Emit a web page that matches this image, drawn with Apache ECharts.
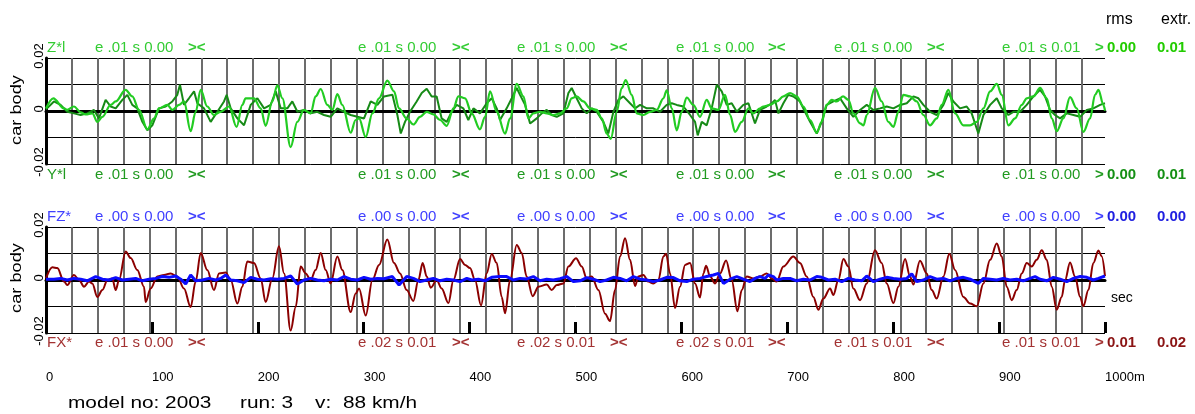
<!DOCTYPE html>
<html><head><meta charset="utf-8">
<script src="https://cdn.jsdelivr.net/npm/echarts@6/dist/echarts.min.js"></script>
<style>html,body{margin:0;padding:0;background:#fff}#c{width:1195px;height:414px}</style>
</head><body><div id="c"></div>
<script>
const FONT = "'Liberation Sans', Arial, Helvetica, sans-serif";
const SEC_M = 88 / 3.6;            // 1 second of travel at 88 km/h (grid step)

// ---- data: [distance m, value] ----
const zSeries = [[0,0.0010],[6.9,0.0048],[17,0.0010],[20.1,0.0004],[26.4,0.0017],[32.7,-0.0005],[37.5,-0.0013],[43.8,-0.0009],[48.5,-0.0041],[53.2,-0.0022],[61.1,0.0023],[65.8,0.0036],[75.2,0.0080],[81.5,0.0055],[87.8,0.0004],[95.7,-0.0069],[102,-0.0028],[106.7,0.0010],[114.6,0.0023],[119.3,0.0004],[125.6,0.0023],[130.3,0.0036],[136.6,-0.0076],[141.3,-0.0003],[146.1,0.0080],[152.3,0.0017],[158.6,-0.0015],[164.9,-0.0003],[172.8,0.0017],[180,-0.0060],[185.4,0.0023],[188.5,0.0048],[196.4,0.0048],[202.7,0.0010],[207.4,-0.0056],[213.7,0.0036],[218.4,0.0097],[223.2,0.0048],[231,-0.0136],[237.3,-0.0041],[243.6,0.0004],[249.9,-0.0009],[254.6,0.0055],[259.4,0.0083],[265.7,0.0023],[270.4,0.0004],[275.1,0.0064],[279.8,0.0023],[287.7,-0.0082],[292.4,-0.0034],[295.6,-0.0028],[301.9,-0.0098],[308.2,-0.0009],[314.5,0.0048],[322.3,0.0115],[328.6,0.0074],[333.3,0.0010],
[340.6,-0.0028],[346.9,-0.0051],[353.2,-0.0022],[359.5,-0.0003],[365.8,-0.0013],[372.1,-0.0034],[378.4,-0.0056],[384.7,0.0010],[389.4,0.0055],[395.7,0.0048],[402,-0.0009],[409.8,-0.0069],[414.6,-0.0022],[419.3,0.0074],[425.6,-0.0003],[433.5,-0.0085],[438.2,-0.0028],[444.5,0.0102],[450.8,0.0055],[455.5,-0.0028],[460.2,-0.0009],[466.5,-0.0003],[472.8,-0.0009],[479.1,-0.0015],[485.4,-0.0009],[491.7,0.0010],[496.4,0.0048],[501.1,0.0055],[507.4,0.0036],[513.7,0.0010],[520,0.0004],[524.8,-0.0028],[529.5,-0.0085],[533.3,-0.0105],[538.9,-0.0003],[543.6,0.0086],[547.4,0.0117],[553.1,0.0061],[557.8,-0.0009],[564.1,-0.0015],[570.4,-0.0003],[576.7,0.0004],[583,0.0048],[586.1,0.0078],[590.9,0.0010],[595.6,-0.0073],[600.3,-0.0003],[605,0.0051],[611.3,0.0023],[617.6,-0.0022],[623.9,0.0042],[628.6,0.0010],[634.9,0.0004],[641.2,0.0061],[646,-0.0015],[650.7,-0.0079],[657,-0.0041],[663.3,0.0010],[668,-0.0009],[674.3,0.0010],
[677.4,0.0017],[683.7,0.0023],[690,0.0036],[696.3,0.0055],[702.6,0.0068],[708.9,0.0055],[715.2,0.0017],[721.5,-0.0034],[727.8,-0.0082],[732.5,-0.0041],[737.2,0.0023],[741.9,0.0042],[746.6,0.0036],[752.6,0.0055],[757.7,0.0042],[762.4,-0.0009],[768.7,-0.0047],[772,-0.0054],[775,-0.0015],[782.8,0.0087],[789.1,0.0036],[795.4,-0.0041],[800.2,-0.0060],[804.9,-0.0003],[809.6,0.0061],[815.9,0.0055],[822.2,0.0036],[828.5,-0.0015],[834.8,-0.0054],[841.1,-0.0028],[845.8,0.0023],[852.1,0.0080],[858.4,-0.0009],[866.3,-0.0054],[872.6,-0.0054],[878.9,-0.0041],[885.2,0.0010],[891.5,0.0074],[897.8,0.0102],[902.5,0.0061],[908.8,-0.0054],[915.1,-0.0028],[921.4,0.0023],[926.1,0.0048],[932.4,0.0055],[938.7,0.0087],[945,0.0048],[949.7,-0.0028],[954.4,-0.0076],[960.7,-0.0028],[967,0.0052],[973.3,0.0010],[979.6,-0.0079],[985.9,-0.0028],[990.6,0.0061],[993.8,0.0080],[998.5,0.0023],[1000,0.0001]];

const ySeries = [[0,0.0006],[7.5,0.0036],[13.8,0.0023],[20.1,-0.0003],[26.4,-0.0009],[32.7,-0.0015],[39,-0.0009],[45.3,0.0004],[50,-0.0028],[56.3,0.0042],[61.1,0.0017],[65.8,0.0010],[72.1,0.0042],[76.8,0.0061],[81.5,0.0023],[86.2,0.0010],[91,-0.0041],[95.7,-0.0073],[100.4,-0.0054],[106.7,0.0010],[113,0.0017],[119.3,0.0036],[124,0.0061],[126.5,0.0099],[130.3,0.0023],[135,0.0048],[139.8,0.0074],[142.9,0.0029],[149.2,0.0010],[155.5,-0.0041],[161.8,-0.0003],[168.1,0.0036],[170.6,0.0061],[174.4,0.0010],[180.7,-0.0028],[187,-0.0054],[193.3,0.0023],[199.6,0.0048],[205.9,0.0010],[212.2,0.0023],[216.9,0.0074],[221.6,0.0010],[227.9,0.0010],[232.6,0.0036],[237.4,-0.0003],[243.6,0.0004],[249.9,-0.0009],[256.2,-0.0003],[262.5,-0.0015],[268.8,-0.0022],[275.1,0.0010],[281.4,-0.0003],[287.7,-0.0015],[294,-0.0022],[300.3,-0.0028],[306.6,0.0036],[312.9,0.0023],[319.2,0.0055],[327.1,0.0061],[331.8,-0.0015],[335,-0.0085],[339,-0.0041],[343.7,-0.0003],[350,0.0036],[354.8,0.0068],[359.5,0.0084],[364.2,0.0055],[368.9,0.0055],[373.6,-0.0028],[378.4,-0.0041],[383.1,-0.0003],[387.8,0.0023],[394.1,0.0010],[398.8,-0.0034],[403.6,0.0010],[409.8,-0.0009],[416.1,0.0029],[420.9,0.0048],[425.6,0.0010],[428.7,-0.0034],[435,0.0010],[439.8,0.0048],[444.5,0.0087],[447.6,0.0061],[452.4,0.0023],[457.1,-0.0047],[463.4,-0.0028],[468.1,-0.0009],[472.8,0.0004],[477.5,-0.0015],[482.3,-0.0022],[488.6,-0.0009],[493.3,0.0068],[496.4,0.0087],[501.1,0.0048],[505.9,0.0010],[510.6,-0.0009],[515.3,0.0010],[520,-0.0003],[526.3,-0.0041],[531,-0.0085],[535.8,-0.0003],[540.5,0.0042],[545.2,0.0055],[551.5,0.0029],[556.2,0.0010],[561,0.0023],[567.3,0.0010],[573.5,0.0010],[579.8,-0.0003],[586.1,0.0023],[590.9,0.0029],[595.6,0.0023],[601.9,0.0017],[608.2,-0.0015],[612.9,-0.0041],[615.4,-0.0092],[619.2,-0.0041],[623.9,-0.0054],[628.6,0.0010],[633.4,0.0099],[638.1,0.0074],[642.8,0.0023],[647.5,0.0029],[652.3,-0.0003],[658.5,0.0023],[663.3,0.0029],[669.5,-0.0047],[674.2,0.0004],[680.5,0.0017],[685.3,0.0029],[688.4,0.0042],[691.6,-0.0009],[696.3,0.0029],[701,0.0061],[705.7,0.0055],[712,0.0036],[716.7,-0.0003],[721.5,-0.0041],[727.8,-0.0085],[732.5,-0.0041],[737.2,0.0023],[743.5,0.0036],[749.8,0.0048],[756.1,0.0010],[762.4,-0.0022],[768.7,0.0004],[775,0.0023],[781.3,0.0004],[787.6,0.0010],[793.9,0.0017],[800.2,0.0010],[806.5,0.0023],[812.8,0.0029],[819.1,0.0055],[823.8,0.0048],[828.5,0.0023],[834.8,-0.0003],[841.1,-0.0015],[847.4,0.0023],[852.1,0.0068],[856.8,0.0036],[863.1,0.0010],[869.4,0.0017],[874.1,-0.0009],[880.4,-0.0085],[885.2,-0.0015],[891.5,0.0023],[897.8,0.0048],[902.5,0.0010],[908.8,-0.0015],[913.5,-0.0003],[919.8,-0.0003],[926.1,0.0023],[932.4,0.0055],[938.7,0.0080],[943.4,0.0055],[948.1,0.0004],[952.8,-0.0015],[957.6,-0.0028],[963.9,-0.0009],[970.2,-0.0015],[976.5,-0.0022],[982.8,0.0004],[989,0.0010],[995.4,0.0023],[1000,0.0029]];

const fxSeries = [[0,0.0006],[6,0.0048],[10.7,0.0045],[17,-0.0006],[20.1,-0.0019],[26.4,0.0019],[31.2,0],[35.9,-0.0025],[40.6,-0.0006],[43.7,-0.0013],[48.5,-0.0064],[53.2,-0.0038],[58,0],[62.6,0.0006],[65.8,-0.0038],[69,0],[75.2,0.0108],[80,0.0083],[86.2,0.0038],[92.5,-0.0025],[94.1,-0.0083],[98.8,-0.0032],[105.1,0.0013],[111.4,0.0019],[117.7,0.0025],[124,0.0013],[130.3,-0.0032],[136.6,-0.0102],[141.3,-0.0006],[146.1,0.0102],[152.3,0.0038],[158.6,-0.0038],[163.4,0.0025],[169.7,0.0028],[174.4,0],[180.7,-0.0089],[185.4,-0.0025],[190.1,0.0070],[196.4,0.0064],[202.7,0.0006],[207.4,-0.0083],[213.7,0.0006],[220,0.0127],[224.8,0.0025],[231,-0.0191],[235.8,-0.0102],[240.5,0.0051],[245.2,0.0025],[249.9,0],[254.6,0.0038],[259.4,0.0102],[264.1,0.0038],[268.8,-0.0013],[275.1,0.0089],[279.8,0.0038],[287.7,-0.0121],[292.4,-0.0051],[295.6,-0.0032],[301.9,-0.0134],[308.2,0],[314.5,0.0057],[322.3,0.0153],[328.6,0.0064],[334.3,0.0025],[340.6,-0.0038],[346.9,-0.0079],[351.6,0],[355.7,0.0064],[359.5,0.0013],[363.3,-0.0029],[368.9,0],[373.6,-0.0032],[380,-0.0087],[384.7,0],[391,0.0079],[395.7,0.0057],[400.4,0.0045],[405.1,0],[410.8,-0.0096],[416.1,0.0025],[420.9,0.0098],[425.6,0.0064],[430.3,-0.0064],[433.5,-0.0125],[438.2,0],[444.5,0.0132],[449.2,0.0102],[453.9,0.0013],[459.6,-0.0061],[465,-0.0025],[472.8,-0.0017],[477.5,-0.0038],[482.3,-0.0019],[488.6,-0.0013],[493.3,0.0051],[500.5,0.0082],[505.9,0.0051],[510.6,0.0006],[515.3,0.0013],[521.6,-0.0038],[527.9,-0.0127],[532.6,-0.0155],[537.3,-0.0038],[542.1,0.0089],[546.8,0.0158],[551.5,0.0076],[556.2,-0.0023],[559.4,0.0013],[564.1,0.0019],[568.8,-0.0006],[573.5,-0.0013],[578.3,0],[583,0.0089],[585.5,0.0099],[589.3,0.0025],[594,-0.0106],[598.7,-0.0025],[603.5,0.0057],[608.2,0.0064],[612.9,-0.0013],[617.6,-0.0066],[620.8,0.0025],[623.3,0.0054],[627.1,0.0013],[631.8,-0.0013],[636.5,0.0025],[642.2,0.0074],[647.5,0],[652.9,-0.0118],[657,-0.0038],[661.7,0.0013],[668,0.0006],[674.2,0.0013],[680.5,0.0025],[685.3,0.0006],[690,-0.0006],[696.3,0.0051],[705.7,0.0089],[712,0.0064],[718.3,0.0013],[724.6,-0.0064],[729.3,-0.0112],[734.1,-0.0070],[740.4,-0.0032],[743.5,-0.0057],[748.2,0],[753,0.0079],[757.7,0.0051],[762.4,-0.0032],[768.7,-0.0076],[775,-0.0013],[782.8,0.0112],[789.1,0.0064],[793.9,-0.0013],[800.2,-0.0087],[804.9,-0.0025],[811.2,0.0079],[815.9,0.0013],[819.1,-0.0017],[825.3,0.0073],[831.6,0.0025],[836.4,-0.0038],[841.1,-0.0070],[847.4,0.0013],[853,0.0099],[858.4,0.0038],[866.3,-0.0064],[872.6,-0.0089],[878.9,-0.0099],[885.2,-0.0013],[891.5,0.0076],[897.8,0.0138],[902.5,0.0089],[907.2,-0.0025],[911.9,-0.0076],[916.6,-0.0038],[921.4,0.0025],[926.1,0.0064],[930.8,0.0051],[935.5,0.0076],[940.3,0.0112],[945,0.0076],[949.7,-0.0025],[954.4,-0.0112],[959.1,-0.0064],[962.3,0],[967,0.0066],[971.7,0.0013],[976.5,-0.0064],[979.6,-0.0099],[984.3,-0.0038],[989,0.0064],[993.8,0.0111],[996.9,0.0089],[1000,0.0015]];

const fzSeries = [[0,0.0003],[7.5,0.0003],[13.8,0.0006],[20.1,0],[26.4,0.0006],[32.7,0.0003],[39,-0.0003],[46.9,0.0013],[53.2,0.0003],[59.5,0],[65.8,0.0009],[72.1,0],[78.4,0.0003],[84.7,0.0006],[91,-0.0003],[97.3,0.0003],[103.6,0.0006],[109.9,0.0013],[116.2,0.0010],[122.4,0.0015],[127.2,0.0003],[131.9,-0.0015],[136.6,0.0019],[141.3,-0.0003],[147.6,0],[153.9,0.0006],[160.2,0],[165,0.0006],[169.7,0.0019],[174.4,0],[180.7,-0.0003],[187,-0.0010],[193.3,0.0010],[199.6,0.0003],[205.9,0],[212.2,0.0005],[218.5,0.0003],[224.8,0.0006],[231.1,0.0015],[237.3,-0.0015],[243.6,0],[249.9,0.0006],[256.2,0],[262.5,-0.0003],[268.8,0.0003],[275.1,0],[281.4,0.0013],[287.7,0.0003],[294,0],[300.3,0.0010],[306.6,0.0003],[312.9,0.0006],[319.2,0.0005],[327.1,0.0013],[333.4,-0.0019],[340.6,0.0013],[346.9,0.0006],[353.2,-0.0006],[359.5,0],[365.8,0.0006],[372.1,-0.0003],[378.4,0.0003],[384.7,0],[391,-0.0006],[397.3,0.0006],[402,0],[408.3,0.0003],[414.6,-0.0003],[420.9,0.0010],[428.7,0.0013],[435,0.0013],[441.3,0],[447.6,0.0006],[453.9,0.0004],[460.2,0.0013],[466.5,-0.0003],[472.8,0.0003],[479.1,0],[485.4,0.0005],[491.7,0.0013],[498,-0.0006],[504.3,-0.0003],[510.6,0.0009],[516.9,0.0003],[523.2,-0.0006],[529.5,0],[535.8,0.0010],[542.1,0.0006],[548.4,-0.0003],[554.7,0.0013],[561,0.0003],[567.3,0],[573.5,-0.0006],[579.8,0],[586.1,0.0010],[592.4,0.0009],[598.7,-0.0003],[605,-0.0006],[611.3,0.0003],[617.6,0.0006],[623.9,0.0013],[630.2,0.0019],[634.9,0.0025],[639.7,-0.0013],[646,0.0003],[652.3,0.0013],[658.5,0.0003],[664.8,-0.0006],[669.5,0.0006],[674.2,0.0013],[679,0.0006],[682.1,0.0019],[686.8,0.0013],[690,0],[696.3,0.0006],[702.6,0.0006],[708.9,-0.0003],[715.2,0.0003],[721.5,0],[727.8,0.0013],[732.5,0.0010],[738.8,0],[745.1,0.0003],[751.4,-0.0006],[757.7,0.0006],[764,0],[770.3,-0.0003],[775,0.0015],[781.3,-0.0006],[787.6,0.0003],[793.9,0.0010],[800.2,0.0006],[806.5,0.0003],[812.8,0.0006],[817.5,0.0023],[822.2,-0.0006],[828.5,0],[834.8,0.0013],[841.1,0.0003],[847.4,0.0006],[853.7,-0.0003],[860,0.0006],[866.3,0.0010],[872.6,0.0003],[880.4,-0.0013],[885.2,0.0006],[891.5,0.0003],[897.8,0],[904,0.0006],[910.3,0],[916.6,0.0003],[922.9,-0.0003],[929.2,0.0006],[934,0.0013],[938.7,0.0003],[945,-0.0003],[951.3,0.0010],[957.6,0.0003],[963.9,-0.0006],[970.2,0.0006],[976.5,0.0013],[982.8,0.0010],[989,0],[993.8,0.0006],[1000,0.0015]];

// ---- texts ----
const zRowStats  = ['e .01 s 0.00','e .01 s 0.00','e .01 s 0.00','e .01 s 0.00','e .01 s 0.00','e .01 s 0.01'];
const yRowStats  = ['e .01 s 0.00','e .01 s 0.00','e .01 s 0.00','e .01 s 0.00','e .01 s 0.00','e .01 s 0.00'];
const fzRowStats = ['e .00 s 0.00','e .00 s 0.00','e .00 s 0.00','e .00 s 0.00','e .00 s 0.00','e .00 s 0.00'];
const fxRowStats = ['e .01 s 0.00','e .02 s 0.01','e .02 s 0.01','e .02 s 0.01','e .01 s 0.01','e .01 s 0.01'];
const zRmsExtr  = ['0.00','0.01'];
const yRmsExtr  = ['0.00','0.01'];
const fzRmsExtr = ['0.00','0.00'];
const fxRmsExtr = ['0.01','0.02'];
const xTickLabels = ['0','100','200','300','400','500','600','700','800','900','1000m'];
const yTickLabels = {'-0.02':'-0.02','0':'0','0.02':'0.02'};

const C = {
  lg:'#22cc22', dg:'#168a16', red:'#8b0000', blue:'#0c0cff',
  zTxt:'#33cc33', yTxt:'#209a20', fzTxt:'#4040ff', fxTxt:'#a33232',
  zB:'#22cc00', yB:'#159015', fzB:'#2020e0', fxB:'#8b1414'
};

const groupX = [95, 358, 517, 676, 834, 1002];
const sepX = [188, 452, 610, 768, 927];

function T(x, y, text, fill, size, weight, extra) {
  return Object.assign({
    type:'text', x:x, y:y, silent:true,
    style:{text:text, fill:fill, font:(weight||'normal')+' '+size+'px '+FONT,
      textAlign:'left', textVerticalAlign:'middle', align:'left', verticalAlign:'middle'}
  }, extra||{});
}
function row(y, name, stats, vals, col, bold) {
  const out = [T(47, y, name, col, 15)];
  stats.forEach((s,i)=>out.push(T(groupX[i], y, s, col, 15)));
  sepX.forEach(x=>out.push(T(x, y, '><', col, 15, 'bold')));
  out.push(T(1095, y, '>', col, 15, 'bold'));
  out.push(T(1107, y, vals[0], bold, 15, 'bold'));
  out.push(T(1157, y, vals[1], bold, 15, 'bold'));
  return out;
}
const graphics = [].concat(
  [T(1106, 20, 'rms', '#000', 16), T(1161, 20, 'extr.', '#000', 16)],
  row(47.5, 'Z*l', zRowStats, zRmsExtr, C.zTxt, C.zB),
  row(174.5, 'Y*l', yRowStats, yRmsExtr, C.yTxt, C.yB),
  row(216.7, 'FZ*', fzRowStats, fzRmsExtr, C.fzTxt, C.fzB),
  row(343, 'FX*', fxRowStats, fxRmsExtr, C.fxTxt, C.fxB),
  [
    T(17, 110, 'car body', '#000', 14, 'normal', {rotation:Math.PI/2, scaleX:1.3, style:{text:'car body', fill:'#000', font:'14px '+FONT, textAlign:'center', textVerticalAlign:'middle', align:'center', verticalAlign:'middle'}}),
    T(17, 278, 'car body', '#000', 14, 'normal', {rotation:Math.PI/2, scaleX:1.3, style:{text:'car body', fill:'#000', font:'14px '+FONT, textAlign:'center', textVerticalAlign:'middle', align:'center', verticalAlign:'middle'}}),
    T(1111, 298, 'sec', '#000', 14),
    T(68, 404, 'model no: 2003', '#000', 16, 'normal', {scaleX:1.3}),
    T(240, 404, 'run: 3', '#000', 16, 'normal', {scaleX:1.3}),
    T(315, 404, 'v:', '#000', 16, 'normal', {scaleX:1.3}),
    T(343, 404, '88 km/h', '#000', 16, 'normal', {scaleX:1.3})
  ]
);

function yFmt(v) {
  const k = Math.abs(v) < 1e-9 ? '0' : (Math.round(v*100)/100).toFixed(2);
  return yTickLabels[k] || '';
}
function secAxis(gi) {
  return {gridIndex:gi, type:'value', min:0, max:1000, interval:SEC_M, position:'bottom',
    axisLine:{show:true, onZero:true, lineStyle:{color:'#000', width:3}},
    axisTick:{show:false}, axisLabel:{show:false},
    splitLine:{show:true, showMinLine:false, showMaxLine:false, lineStyle:{color:'#6c6c6c', width:2}}};
}
function yAx(gi) {
  return {gridIndex:gi, type:'value', min:-0.02, max:0.02, interval:0.01,
    axisLine:{show:true, onZero:false, lineStyle:{color:'#000', width:3}},
    axisTick:{show:false},
    axisLabel:{show:true, rotate:90, margin:0, color:'#000', fontSize:13, fontFamily:FONT,
      showMinLabel:true, showMaxLabel:true, padding:[0,0,0,4], formatter:yFmt},
    splitLine:{show:true, lineStyle:{color:'#000', width:1}}};
}
function line(data, xi, yi, color, width, smooth) {
  return {type:'line', xAxisIndex:xi, yAxisIndex:yi, data:data, showSymbol:false, symbol:'none',
    smooth:smooth, smoothMonotone:'x', lineStyle:{color:color, width:width}, itemStyle:{color:color},
    animation:false, silent:true, z:3};
}

const chart = echarts.init(document.getElementById('c'));
chart.setOption({
  backgroundColor:'#fff',
  animation:false,
  grid:[{left:46, top:58, width:1059, height:106}, {left:46, top:227, width:1059, height:106}],
  xAxis:[
    secAxis(0), secAxis(1),
    {gridIndex:1, type:'value', min:0, max:1000, interval:100, position:'bottom',
      axisLine:{show:false, onZero:false},
      axisTick:{show:true, inside:true, length:11, lineStyle:{color:'#000', width:3}},
      axisLabel:{show:true, margin:38, align:'left', color:'#000', fontSize:13, fontFamily:FONT,
        showMinLabel:true, showMaxLabel:true,
        formatter:(v)=>xTickLabels[Math.round(v/100)]},
      splitLine:{show:false}}
  ],
  yAxis:[yAx(0), yAx(1)],
  series:[
    line(ySeries, 0, 0, C.dg, 2, false),
    line(zSeries, 0, 0, C.lg, 2.2, 0.35),
    line(fxSeries, 1, 1, C.red, 2, 0.35),
    line(fzSeries, 1, 1, C.blue, 3, false)
  ],
  graphic:graphics
});
</script></body></html>
